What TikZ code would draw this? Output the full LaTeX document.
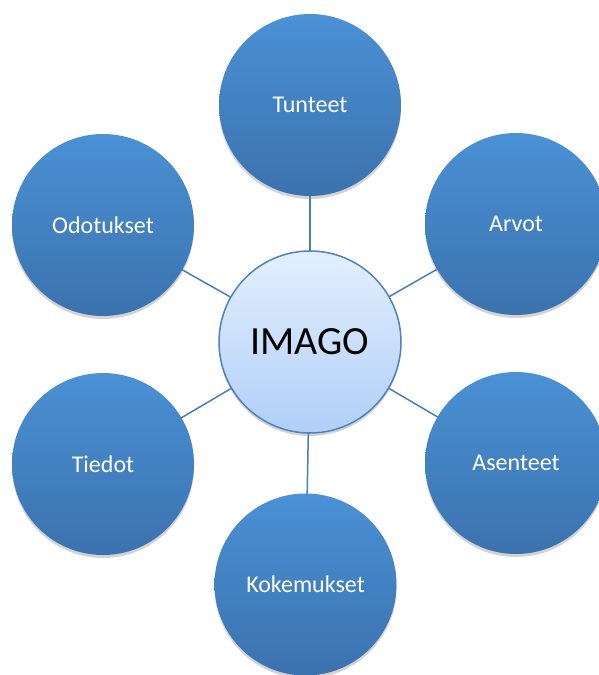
\documentclass[tikz,border=0pt]{standalone}
\usepackage{fontspec}
\setmainfont{Carlito}
\usetikzlibrary{shadows,backgrounds}
\definecolor{otop}{RGB}{74,145,213}
\definecolor{obot}{RGB}{59,114,174}
\definecolor{ctop}{RGB}{227,239,253}
\definecolor{cbot}{RGB}{176,207,248}
\definecolor{cborder}{RGB}{79,129,189}
\definecolor{linkc}{RGB}{74,126,187}
\tikzset{
  outer/.style={circle, minimum size=182pt, inner sep=0pt, top color=otop, bottom color=obot,
    draw=none, text=white, font=\fontsize{24}{28}\selectfont, yshift=-1pt,
    drop shadow={opacity=0.35, shadow xshift=0pt, shadow yshift=-3pt}},
  hub/.style={circle, minimum size=182pt, inner sep=0pt, top color=ctop, bottom color=cbot,
    draw=cborder, line width=1.5pt, text=black, font=\fontsize{40}{46}\selectfont,
    drop shadow={opacity=0.35, shadow xshift=0pt, shadow yshift=-3pt}},
  link/.style={draw=linkc, line width=1.5pt}
}
\begin{document}
\begin{tikzpicture}[x=1pt,y=-1pt]
\useasboundingbox (0,0) rectangle (599,675);
\node[hub] (c) at (310,342) {IMAGO};
\node[outer] (t) at (310,104) {Tunteet};
\node[outer] (a) at (516,223) {Arvot};
\node[outer] (s) at (516,462) {Asenteet};
\node[outer] (k) at (305.5,583.5) {Kokemukset};
\node[outer] (d) at (103,463) {Tiedot};
\node[outer] (o) at (103,224) {Odotukset};
\begin{scope}[on background layer]
\foreach \n in {t,a,s,k,d,o} \draw[link] (c.center) -- (\n.center);
\end{scope}
\end{tikzpicture}
\end{document}
